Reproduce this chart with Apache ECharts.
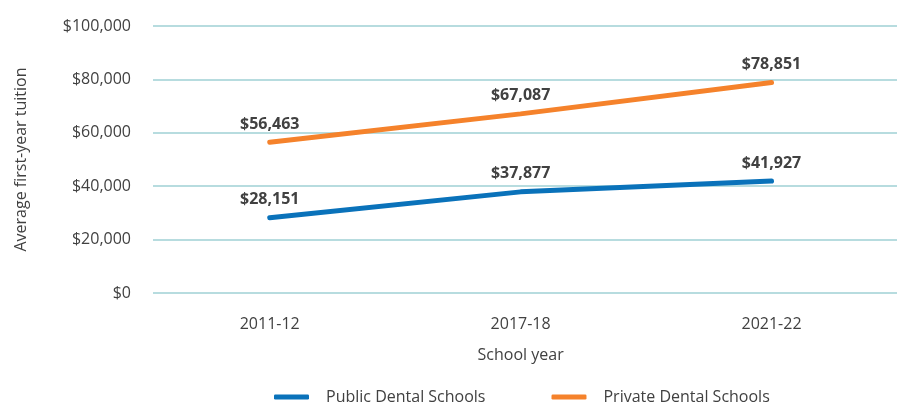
<!DOCTYPE html>
<html><head><meta charset="utf-8">
<script src="https://cdn.jsdelivr.net/npm/echarts@6/dist/echarts.min.js"></script>
<style>html,body{margin:0;padding:0;background:#fff}#c{width:897px;height:404px}</style>
</head><body><div id="c"></div>
<script>
var categories = ['2011-12', '2017-18', '2021-22'];
var publicValues = [28151, 37877, 41927];
var privateValues = [56463, 67087, 78851];
var yTicks = [0, 20000, 40000, 60000, 80000, 100000];
var seriesNames = ['Public Dental Schools', 'Private Dental Schools'];

function money(v) {
  var s = String(Math.round(v));
  return '$' + s.replace(/\B(?=(\d{3})+(?!\d))/g, ',');
}
var FONT = 'Open Sans';
var TXT = '#414141';
function lbl(dist) {
  return { show: true, position: 'top', distance: dist, color: TXT, fontSize: 16, fontWeight: 'bold', fontFamily: FONT,
    formatter: function (p) { return money(p.value); } };
}
var chart = echarts.init(document.getElementById('c'));
chart.setOption({
  animation: false,
  backgroundColor: '#fff',
  textStyle: { fontFamily: FONT },
  grid: [
    { left: 153, right: 0, top: 26, height: 267 },
    { left: 144.25, width: 766.5, top: 26, height: 267 }
  ],
  xAxis: [
    { gridIndex: 0, type: 'category', data: categories, show: false },
    { gridIndex: 1, type: 'category', data: categories, boundaryGap: true,
      axisLine: { show: false }, axisTick: { show: false },
      axisLabel: { color: TXT, fontSize: 16, fontFamily: FONT, margin: 23 },
      name: 'School year', nameLocation: 'middle', nameGap: 54,
      nameTextStyle: { color: TXT, fontSize: 16, fontFamily: FONT } }
  ],
  yAxis: [
    { gridIndex: 0, type: 'value', min: yTicks[0], max: yTicks[yTicks.length - 1], interval: 20000,
      axisLine: { show: false }, axisTick: { show: false },
      axisLabel: { color: TXT, fontSize: 16, fontFamily: FONT, margin: 22, formatter: money },
      splitLine: { lineStyle: { color: '#b7dcdf', width: 2 } },
      name: 'Average first-year tuition', nameLocation: 'middle', nameGap: 124, nameRotate: 90,
      nameTextStyle: { color: TXT, fontSize: 16, fontFamily: FONT } },
    { gridIndex: 1, type: 'value', min: yTicks[0], max: yTicks[yTicks.length - 1], interval: 20000, show: false,
      splitLine: { show: false } }
  ],
  legend: {
    top: 384, left: 269, itemGap: 66, itemWidth: 35, itemHeight: 5, icon: 'roundRect',
    textStyle: { color: TXT, fontSize: 16, fontFamily: FONT, padding: [0, 0, 0, 12] },
    data: seriesNames
  },
  series: [
    { name: seriesNames[0], type: 'line', xAxisIndex: 1, yAxisIndex: 1, data: publicValues,
      color: '#0a72ba', showSymbol: true, symbol: 'circle', symbolSize: 0,
      lineStyle: { width: 5, cap: 'round' },
      label: lbl(10) },
    { name: seriesNames[1], type: 'line', xAxisIndex: 1, yAxisIndex: 1, data: privateValues,
      color: '#f5822b', showSymbol: true, symbol: 'circle', symbolSize: 0,
      lineStyle: { width: 5, cap: 'round' },
      label: lbl(10) }
  ]
});
</script></body></html>
